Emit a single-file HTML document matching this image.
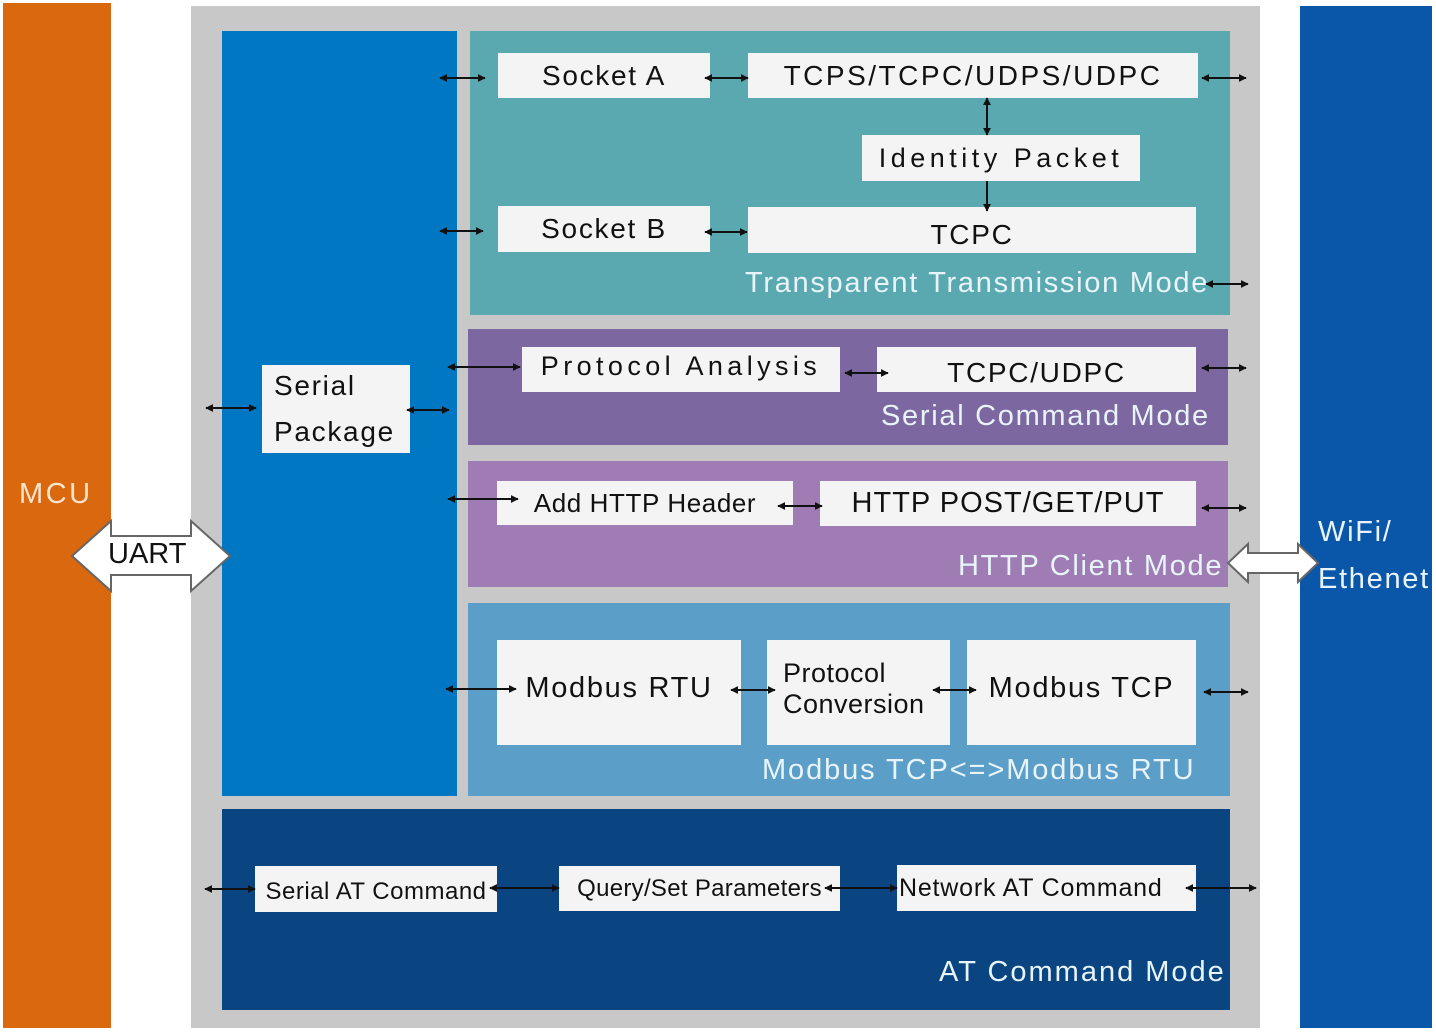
<!DOCTYPE html>
<html><head><meta charset="utf-8"><style>
body{margin:0;width:1436px;height:1032px;background:#fff;position:relative;overflow:hidden;font-family:"Liberation Sans",sans-serif;letter-spacing:1.7px}
div{position:absolute;box-sizing:border-box}
.w{background:#f4f4f4;color:#111;display:flex;align-items:center;justify-content:center;font-size:28px;white-space:nowrap}
.l{color:#e8f4fa;font-size:29px;white-space:nowrap}
</style></head><body>
<div style="left:3px;top:3px;width:108px;height:1025px;background:#d9680f"></div>
<div class="l" style="left:19px;top:478px;color:#fbe3cc;letter-spacing:2.5px">MCU</div>
<div style="left:191px;top:6px;width:1069px;height:1022px;background:#c8c8c8"></div>
<div style="left:1300px;top:6px;width:132px;height:1022px;background:#0a56a8"></div>
<div class="l" style="left:1318px;top:516px">WiFi/</div>
<div class="l" style="left:1318px;top:563px">Ethenet</div>
<div style="left:222px;top:31px;width:235px;height:765px;background:#0077c3"></div>
<div style="left:470px;top:31px;width:760px;height:284px;background:#5aa9b0"></div>
<div style="left:468px;top:329px;width:760px;height:116px;background:#7d67a0"></div>
<div style="left:468px;top:461px;width:760px;height:126px;background:#a07cb4"></div>
<div style="left:468px;top:603px;width:762px;height:193px;background:#5b9ec8"></div>
<div style="left:222px;top:809px;width:1008px;height:201px;background:#0a4582"></div>

<div class="w" style="left:498px;top:53px;width:212px;height:45px">Socket A</div>
<div class="w" style="left:748px;top:53px;width:450px;height:45px;letter-spacing:2.5px">TCPS/TCPC/UDPS/UDPC</div>
<div class="w" style="left:862px;top:135px;width:278px;height:46px;letter-spacing:4.5px;font-size:27px">Identity Packet</div>
<div class="w" style="left:498px;top:206px;width:212px;height:46px">Socket B</div>
<div class="w" style="left:748px;top:207px;width:448px;height:46px;padding-top:10px">TCPC</div>
<div class="l" style="left:745px;top:267px">Transparent Transmission Mode</div>
<div class="w" style="left:262px;top:365px;width:148px;height:88px;justify-content:flex-start;padding-left:12px;line-height:46px;text-align:left;white-space:normal">Serial<br>Package</div>
<div class="w" style="left:522px;top:347px;width:318px;height:45px;letter-spacing:4.4px;font-size:27px;padding-bottom:6px">Protocol Analysis</div>
<div class="w" style="left:877px;top:347px;width:319px;height:45px;padding-top:6px">TCPC/UDPC</div>
<div class="l" style="left:881px;top:400px">Serial Command Mode</div>
<div class="w" style="left:497px;top:481px;width:296px;height:44px;font-size:26px;letter-spacing:0.6px">Add HTTP Header</div>
<div class="w" style="left:820px;top:481px;width:376px;height:45px;font-size:29px;letter-spacing:1px">HTTP POST/GET/PUT</div>
<div class="l" style="left:958px;top:550px">HTTP Client Mode</div>
<div class="w" style="left:497px;top:640px;width:244px;height:105px;font-size:29px;padding-bottom:8px">Modbus RTU</div>
<div class="w" style="left:767px;top:640px;width:183px;height:105px;font-size:27px;justify-content:flex-start;padding-left:16px;line-height:31px;padding-bottom:8px;white-space:normal;letter-spacing:0.5px">Protocol<br>Conversion</div>
<div class="w" style="left:967px;top:640px;width:229px;height:105px;font-size:29px;padding-bottom:8px">Modbus TCP</div>
<div class="l" style="left:762px;top:754px;letter-spacing:1.9px">Modbus TCP&lt;=&gt;Modbus RTU</div>
<div class="w" style="left:255px;top:866px;width:242px;height:46px;font-size:24px;padding-top:6px;letter-spacing:0.5px">Serial AT Command</div>
<div class="w" style="left:559px;top:866px;width:281px;height:45px;font-size:24px;letter-spacing:0.3px">Query/Set Parameters</div>
<div class="w" style="left:897px;top:865px;width:299px;height:46px;font-size:25px;justify-content:flex-start;padding-left:2px;letter-spacing:0.8px">Network AT Command</div>
<div class="l" style="left:939px;top:956px;letter-spacing:2px">AT Command Mode</div>

<svg width="1436" height="1032" style="position:absolute;left:0;top:0">
<defs><marker id="a" viewBox="0 0 10 10" refX="9" refY="5" markerWidth="4" markerHeight="4" orient="auto-start-reverse"><path d="M0 0L10 5L0 10z" fill="#111"/></marker></defs>
<g stroke="#111" stroke-width="2" marker-start="url(#a)" marker-end="url(#a)">
<line x1="440" y1="78" x2="485" y2="78"/><line x1="705" y1="78" x2="748" y2="78"/><line x1="1202" y1="78" x2="1246" y2="78"/>
<line x1="440" y1="231" x2="483" y2="231"/><line x1="705" y1="232" x2="747" y2="232"/><line x1="1206" y1="284" x2="1248" y2="284"/>
<line x1="987" y1="98" x2="987" y2="135"/><line x1="987" y1="181" x2="987" y2="211" marker-start="none"/>
<line x1="206" y1="408" x2="256" y2="408"/><line x1="407" y1="410" x2="449" y2="410"/>
<line x1="448" y1="367" x2="520" y2="367"/><line x1="845" y1="373" x2="888" y2="373"/><line x1="1202" y1="368" x2="1246" y2="368"/>
<line x1="448" y1="499" x2="518" y2="499"/><line x1="778" y1="506" x2="822" y2="506"/><line x1="1202" y1="508" x2="1246" y2="508"/>
<line x1="446" y1="689" x2="516" y2="689"/><line x1="731" y1="690" x2="775" y2="690"/><line x1="933" y1="690" x2="976" y2="690"/><line x1="1204" y1="692" x2="1248" y2="692"/>
<line x1="205" y1="889" x2="255" y2="889"/><line x1="490" y1="888" x2="559" y2="888"/><line x1="825" y1="888" x2="897" y2="888"/><line x1="1186" y1="888" x2="1256" y2="888"/>
</g>
<path d="M72 556L111 521V536H191V521L230 556L191 591V575H111V591Z" fill="#fff" stroke="#666" stroke-width="2"/>
<path d="M1228 563L1248 544V553H1298V544L1318 563L1298 582V573H1248V582Z" fill="#fff" stroke="#666" stroke-width="2"/>
</svg>
<div style="left:108px;top:538px;font-size:29px;color:#111;letter-spacing:0">UART</div>
</body></html>
